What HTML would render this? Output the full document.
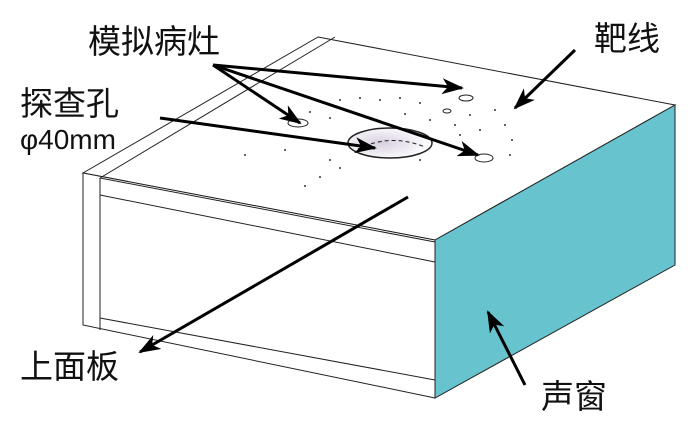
<!DOCTYPE html><html><head><style>body{margin:0;background:#fff}svg{display:block}text{font-family:"Liberation Sans","Noto Sans CJK SC",sans-serif;fill:#111}</style></head><body>
<svg width="691" height="442" viewBox="0 0 691 442" xmlns="http://www.w3.org/2000/svg">
<defs>
<marker id="b" markerWidth="22" markerHeight="16" refX="20" refY="8" orient="auto" markerUnits="userSpaceOnUse"><path d="M0,0 L22,8 L0,16 L6,8Z" fill="#000"/></marker>
<radialGradient id="g" cx="0.4" cy="0.5" r="0.6"><stop offset="0" stop-color="#d8cfe0"/><stop offset="1" stop-color="#fff"/></radialGradient></defs>
<g stroke="#222" stroke-width="1" fill="#fff">
<polygon points="318,37 675,105 435,240 83,173"/>
<polygon points="83,173 435,240 435,398 83,325"/>
<polygon points="435,240 675,105 675,265 435,398" fill="#67c3cd"/>
<line x1="100" y1="178" x2="335" y2="37"/>
<line x1="100" y1="178" x2="100" y2="330"/>
<line x1="100" y1="178" x2="435" y2="242"/>
<line x1="100" y1="195" x2="435" y2="262"/>
<line x1="100" y1="318" x2="435" y2="380"/>
<ellipse cx="390" cy="143" rx="42" ry="15" fill="url(#g)" stroke-width="1.5"/>
<path d="M358,149 Q390,133 425,147" fill="none" stroke-dasharray="4,3"/>
<ellipse cx="298" cy="123" rx="10" ry="4"/>
<ellipse cx="466" cy="98" rx="7" ry="3"/>
<ellipse cx="447" cy="111" rx="4" ry="2"/>
<ellipse cx="484" cy="158" rx="9" ry="4"/>
</g>
<g fill="#333">
<circle cx="340" cy="100" r="1"/><circle cx="360" cy="98" r="1"/><circle cx="380" cy="100" r="1"/><circle cx="400" cy="98" r="1"/><circle cx="420" cy="103" r="1"/><circle cx="310" cy="112" r="1"/><circle cx="330" cy="118" r="1"/><circle cx="360" cy="115" r="1"/><circle cx="405" cy="114" r="1"/><circle cx="430" cy="120" r="1"/><circle cx="455" cy="125" r="1"/><circle cx="470" cy="115" r="1"/><circle cx="480" cy="130" r="1"/><circle cx="495" cy="110" r="1"/><circle cx="505" cy="125" r="1"/><circle cx="512" cy="140" r="1"/><circle cx="510" cy="155" r="1"/><circle cx="245" cy="155" r="1"/><circle cx="285" cy="150" r="1"/><circle cx="330" cy="160" r="1"/><circle cx="340" cy="168" r="1"/><circle cx="320" cy="177" r="1"/><circle cx="305" cy="186" r="1"/><circle cx="460" cy="135" r="1"/><circle cx="420" cy="160" r="1"/></g>
<g stroke="#000" stroke-width="3" fill="none">
<line x1="213" y1="65" x2="300" y2="123" marker-end="url(#b)"/>
<line x1="213" y1="65" x2="462" y2="88" marker-end="url(#b)"/>
<line x1="213" y1="65" x2="478" y2="155" marker-end="url(#b)"/>
<line x1="160" y1="118" x2="375" y2="148" marker-end="url(#b)"/>
<line x1="575" y1="50" x2="515" y2="108" marker-end="url(#b)"/>
<line x1="408" y1="197" x2="140" y2="352" marker-end="url(#b)"/>
<line x1="525" y1="385" x2="488" y2="312" marker-end="url(#b)"/>
</g>
<text x="88" y="53" font-size="33">模拟病灶</text>
<text x="594" y="50" font-size="33">靶线</text>
<text x="20" y="115" font-size="33">探查孔</text>
<text x="20" y="149" font-size="28">φ40mm</text>
<text x="20" y="378" font-size="33">上面板</text>
<text x="541" y="408" font-size="33">声窗</text>
</svg></body></html>
